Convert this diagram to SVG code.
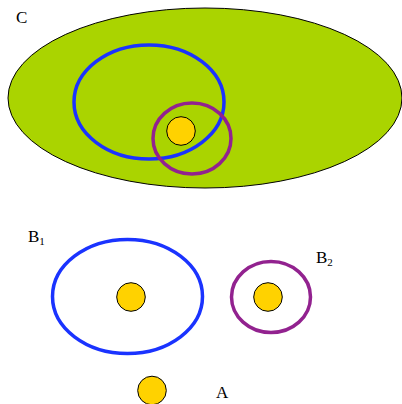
<svg xmlns="http://www.w3.org/2000/svg" width="402" height="404" viewBox="0 0 402 404">
<style>
.lbl{font-family:"Liberation Serif",serif;font-size:17px;fill:#000}
.sub{font-size:11px}
.blue{fill:none;stroke:#1a33ff;stroke-width:3.5}
.purple{fill:none;stroke:#92228f;stroke-width:3.5}
.dot{fill:#ffd200;stroke:#000;stroke-width:1}
</style>
<rect width="402" height="404" fill="#fff"/>
<g id="C">
<ellipse cx="205" cy="98" rx="197" ry="90" fill="#aad400" stroke="#000" stroke-width="1"/>
<text class="lbl" x="16" y="23">C</text>
</g>
<g id="C-B1"><ellipse class="blue" cx="149" cy="102" rx="75" ry="57"/></g>
<g id="C-A"><circle class="dot" cx="181" cy="131" r="14.3"/></g>
<g id="C-B2"><ellipse class="purple" cx="192" cy="138.5" rx="39" ry="35.5"/></g>
<g id="B1">
<ellipse class="blue" cx="127.5" cy="296.5" rx="75" ry="57"/>
<circle class="dot" cx="131" cy="297" r="14.3"/>
<text class="lbl" x="28" y="242">B<tspan class="sub" dy="3">1</tspan></text>
</g>
<g id="B2">
<ellipse class="purple" cx="271" cy="297" rx="39.5" ry="35.5"/>
<circle class="dot" cx="268" cy="297" r="14.3"/>
<text class="lbl" x="316" y="263">B<tspan class="sub" dy="3">2</tspan></text>
</g>
<g id="A">
<circle class="dot" cx="152" cy="390.5" r="14.3"/>
<text class="lbl" x="216" y="398">A</text>
</g>
<g id="connectors"/>
</svg>
